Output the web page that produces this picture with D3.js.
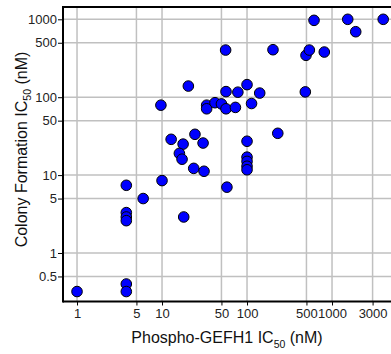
<!DOCTYPE html>
<html lang="en">

<head>
    <meta charset="UTF-8">
    <title>Phospho-GEFH1 vs Colony Formation</title>
    <style>
        body {
            margin: 0;
        }

        .axis text {
            font-family: "Liberation Sans", Arial, sans-serif;
            font-size: 13px;
            fill: #222;
        }

        .axis line {
            stroke: black;
        }

        .axis path {
            display: none;
        }

        .grid line {
            stroke: #c0c0c0;
            stroke-width: 1.5;
        }

        .title {
            font-family: "Liberation Sans", Arial, sans-serif;
            font-size: 16px;
            fill: #111;
            text-anchor: middle;
        }
    </style>
</head>

<body>
    <script src="https://d3js.org/d3.v7.min.js"></script>
    <script>
        const width = 391;
        const height = 354;
        // plot area edges
        const padding = { left: 63, right: 0, top: 7, bottom: 52.5 };

        // Phospho-GEFH1 IC50 (nM)
        const xValues = [1, 3.8, 3.8, 3.8, 3.8, 3.8, 3.8, 6, 10, 18,
            9.7, 20.4, 12.8, 17.7, 16, 17.2, 24.4, 23.6, 30.4, 31.2,
            100, 100, 100, 100, 100, 58, 33.5, 33.5, 42, 50,
            56.6, 56.6, 73, 78, 100, 141, 113, 56, 202, 494,
            541, 811, 614, 1530, 1900, 4000, 485, 230];
        // Colony Formation IC50 (nM)
        const yValues = [0.32, 0.40, 0.32, 7.4, 3.3, 2.9, 2.6, 5, 8.5, 2.9,
            79, 139, 28.8, 25, 19, 16, 33.4, 12.2, 25.8, 11.2,
            27.2, 17, 15, 13, 11.7, 7, 79, 71, 85, 82,
            118, 71, 74, 116, 145, 113, 83, 403, 407, 345,
            403, 380, 970, 1000, 693, 1000, 117, 34.4];

        const xTicks = [1, 5, 10, 50, 100, 500, 1000, 3000];
        const yTicks = [0.5, 1, 5, 10, 50, 100, 500, 1000];

        const data = xValues.map(function (d, i) {
            return { x: d, y: yValues[i] };
        });

        const xScale = d3.scaleLog()
            .domain([0.684, 4940])
            .range([padding.left, width - padding.right]);
        const yScale = d3.scaleLog()
            .domain([0.2384, 1439])
            .range([height - padding.bottom, padding.top]);

        const svg = d3.select('body').append('svg').attr('width', width).attr('height', height);

        // grid
        svg.append('g').attr('class', 'grid')
            .selectAll('line')
            .data(xTicks)
            .enter()
            .append('line')
            .attr('x1', function (d) { return xScale(d); })
            .attr('x2', function (d) { return xScale(d); })
            .attr('y1', padding.top)
            .attr('y2', height - padding.bottom);
        svg.append('g').attr('class', 'grid')
            .selectAll('line')
            .data(yTicks)
            .enter()
            .append('line')
            .attr('y1', function (d) { return yScale(d); })
            .attr('y2', function (d) { return yScale(d); })
            .attr('x1', padding.left)
            .attr('x2', width - padding.right);

        // axes
        svg.append('g')
            .attr('class', 'axis')
            .attr('transform', 'translate(0,' + (height - padding.bottom) + ')')
            .call(d3.axisBottom(xScale).tickValues(xTicks).tickFormat(d3.format('d')).tickSize(4).tickPadding(3));
        svg.append('g')
            .attr('class', 'axis')
            .attr('transform', 'translate(' + padding.left + ',0)')
            .call(d3.axisLeft(yScale).tickValues(yTicks).tickFormat(function (d) { return d; }).tickSize(5).tickPadding(1));

        // frame: left, bottom, top
        const frame = svg.append('g').attr('stroke', 'black').attr('stroke-width', 2);
        frame.append('line')
            .attr('x1', padding.left).attr('x2', padding.left)
            .attr('y1', padding.top - 1).attr('y2', height - padding.bottom + 1);
        frame.append('line')
            .attr('x1', padding.left).attr('x2', width)
            .attr('y1', height - padding.bottom).attr('y2', height - padding.bottom);
        frame.append('line')
            .attr('x1', padding.left).attr('x2', width)
            .attr('y1', padding.top).attr('y2', padding.top);

        // points
        svg.append('g')
            .selectAll('circle')
            .data(data)
            .enter()
            .append('circle')
            .attr('cx', function (d) { return xScale(d.x); })
            .attr('cy', function (d) { return yScale(d.y); })
            .attr('r', 5.3)
            .attr('fill', '#0000ff')
            .attr('stroke', 'black')
            .attr('stroke-width', 1);

        // axis titles
        const xt = svg.append('text')
            .attr('class', 'title')
            .attr('x', (padding.left + width) / 2)
            .attr('y', 343);
        xt.append('tspan').text('Phospho-GEFH1 IC');
        xt.append('tspan').attr('font-size', '10.5px').attr('dy', 4.5).text('50');
        xt.append('tspan').attr('dy', -4.5).text(' (nM)');

        const yt = svg.append('text')
            .attr('class', 'title')
            .attr('transform', 'translate(26.5,149.5) rotate(-90)');
        yt.append('tspan').text('Colony Formation IC');
        yt.append('tspan').attr('font-size', '10.5px').attr('dy', 4.5).text('50');
        yt.append('tspan').attr('dy', -4.5).text(' (nM)');
    </script>
</body>

</html>
